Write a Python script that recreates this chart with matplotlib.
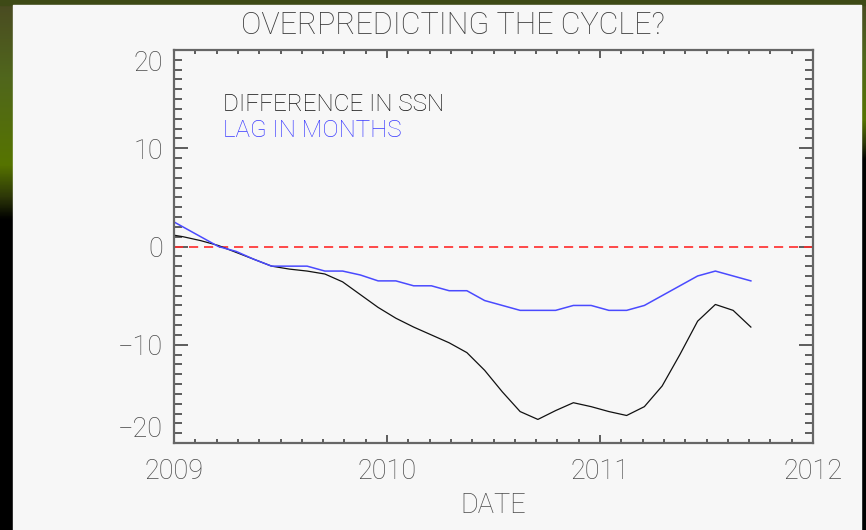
import numpy as np
import matplotlib
matplotlib.use("Agg")
import matplotlib.pyplot as plt
from matplotlib.ticker import MultipleLocator
from matplotlib.colors import LinearSegmentedColormap

# monthly values (mid month), Dec 2008 .. Sep 2011
years = [2008] + [2009] * 12 + [2010] * 12 + [2011] * 9
months = [12] + list(range(1, 13)) * 2 + list(range(1, 10))

ssn_diff = [1.3, 1.0, 0.6, 0.1, -0.6, -1.3, -2.0, -2.3, -2.5, -2.8, -3.6, -4.9,
            -6.2, -7.3, -8.2, -9.0, -9.8, -10.8, -12.6, -14.8, -16.8, -17.6,
            -16.7, -15.9, -16.3, -16.8, -17.2, -16.3, -14.2, -11.0, -7.6, -5.9,
            -6.5, -8.2]
lag_months = [3.0, 2.0, 1.0, 0.0, -0.5, -1.3, -2.0, -2.0, -2.0, -2.5, -2.5, -2.9,
              -3.5, -3.5, -4.0, -4.0, -4.5, -4.5, -5.5, -6.0, -6.5, -6.5, -6.5,
              -6.0, -6.0, -6.5, -6.5, -6.0, -5.0, -4.0, -3.0, -2.5, -3.0, -3.5]

year_ticks = [2009, 2010, 2011, 2012]
y_ticks = [-20, -10, 0, 10, 20]

title = "OVERPREDICTING THE CYCLE?"
label_ssn = "DIFFERENCE IN SSN"
label_lag = "LAG IN MONTHS"

FONT = "Roboto"
plt.rcParams["font.family"] = [FONT, "DejaVu Sans"]
plt.rcParams["font.weight"] = "light"
plt.rcParams["axes.labelweight"] = "light"

dates = np.array(years) + (np.array(months) - 0.5) / 12.0

W, H = 866, 530
fig = plt.figure(figsize=(W / 100, H / 100), dpi=100, facecolor="black")

# photo-like backdrop showing around the white panel
bg = fig.add_axes([0, 0, 1, 1], zorder=-10)
bg.set_axis_off()
bg.set_xlim(0, W)
bg.set_ylim(H, 0)
green = LinearSegmentedColormap.from_list(
    "g", [(0, "#4a4a22"), (0.35, "#50661c"), (0.75, "#567400"), (0.9, "#2c3608"), (1, "#000000")])
grad = np.linspace(0, 1, 200).reshape(-1, 1)
bg.imshow(grad, cmap=green, extent=[0, 13, 220, 0], aspect="auto")
bg.imshow(grad, cmap=green, extent=[861, 866, 160, 0], aspect="auto")
bg.fill_between([0, W], 0, 5, color="#3e4a16")
bg.fill_between([13, 861], 5, H, color="#f7f7f7")

ax = fig.add_axes([174 / W, 1 - 443 / H, (813 - 174) / W, (443 - 50) / H])
ax.set_facecolor("#f7f7f7")

ax.axhline(0, color="#ff2a2a", lw=1.2, dashes=(5.5, 3.5))
ax.plot(dates, ssn_diff, color="#111111", lw=0.9)
ax.plot(dates, lag_months, color="#4a4aff", lw=1.1)

ax.set_xlim(2009, 2012)
ax.set_ylim(-20, 20)
ax.set_xticks(year_ticks)
ax.set_xticklabels([str(y) for y in year_ticks])
ax.set_yticks(y_ticks)
ax.xaxis.set_minor_locator(MultipleLocator(0.1))
ax.yaxis.set_minor_locator(MultipleLocator(1))

for s in ax.spines.values():
    s.set_color("#666666")
    s.set_linewidth(1.6)

ax.tick_params(which="both", direction="in", top=True, right=True,
               color="#333333", width=1.1, labelsize=19.5, labelcolor="#4a4a4a")
ax.tick_params(axis="x", which="major", length=5.8, pad=11)
ax.tick_params(axis="x", which="minor", length=3)
ax.tick_params(axis="y", which="major", length=10, pad=8)
ax.tick_params(axis="y", which="minor", length=5.8)

ylabels = ax.get_yticklabels()
ylabels[0].set_verticalalignment("bottom")
ylabels[-1].set_verticalalignment("top")

ax.set_xlabel("DATE", fontsize=19.5, color="#4a4a4a", labelpad=5)

fig.text(453 / W, 1 - 26 / H, title, ha="center", va="center",
         fontsize=22, color="#3a3a3a")
ax.text(0.077, 0.845, label_ssn, transform=ax.transAxes, fontsize=17.5,
        color="#111111", va="baseline")
ax.text(0.077, 0.779, label_lag, transform=ax.transAxes, fontsize=17.5,
        color="#3a3aff", va="baseline")

fig.savefig("out.png", dpi=100, facecolor=fig.get_facecolor())
